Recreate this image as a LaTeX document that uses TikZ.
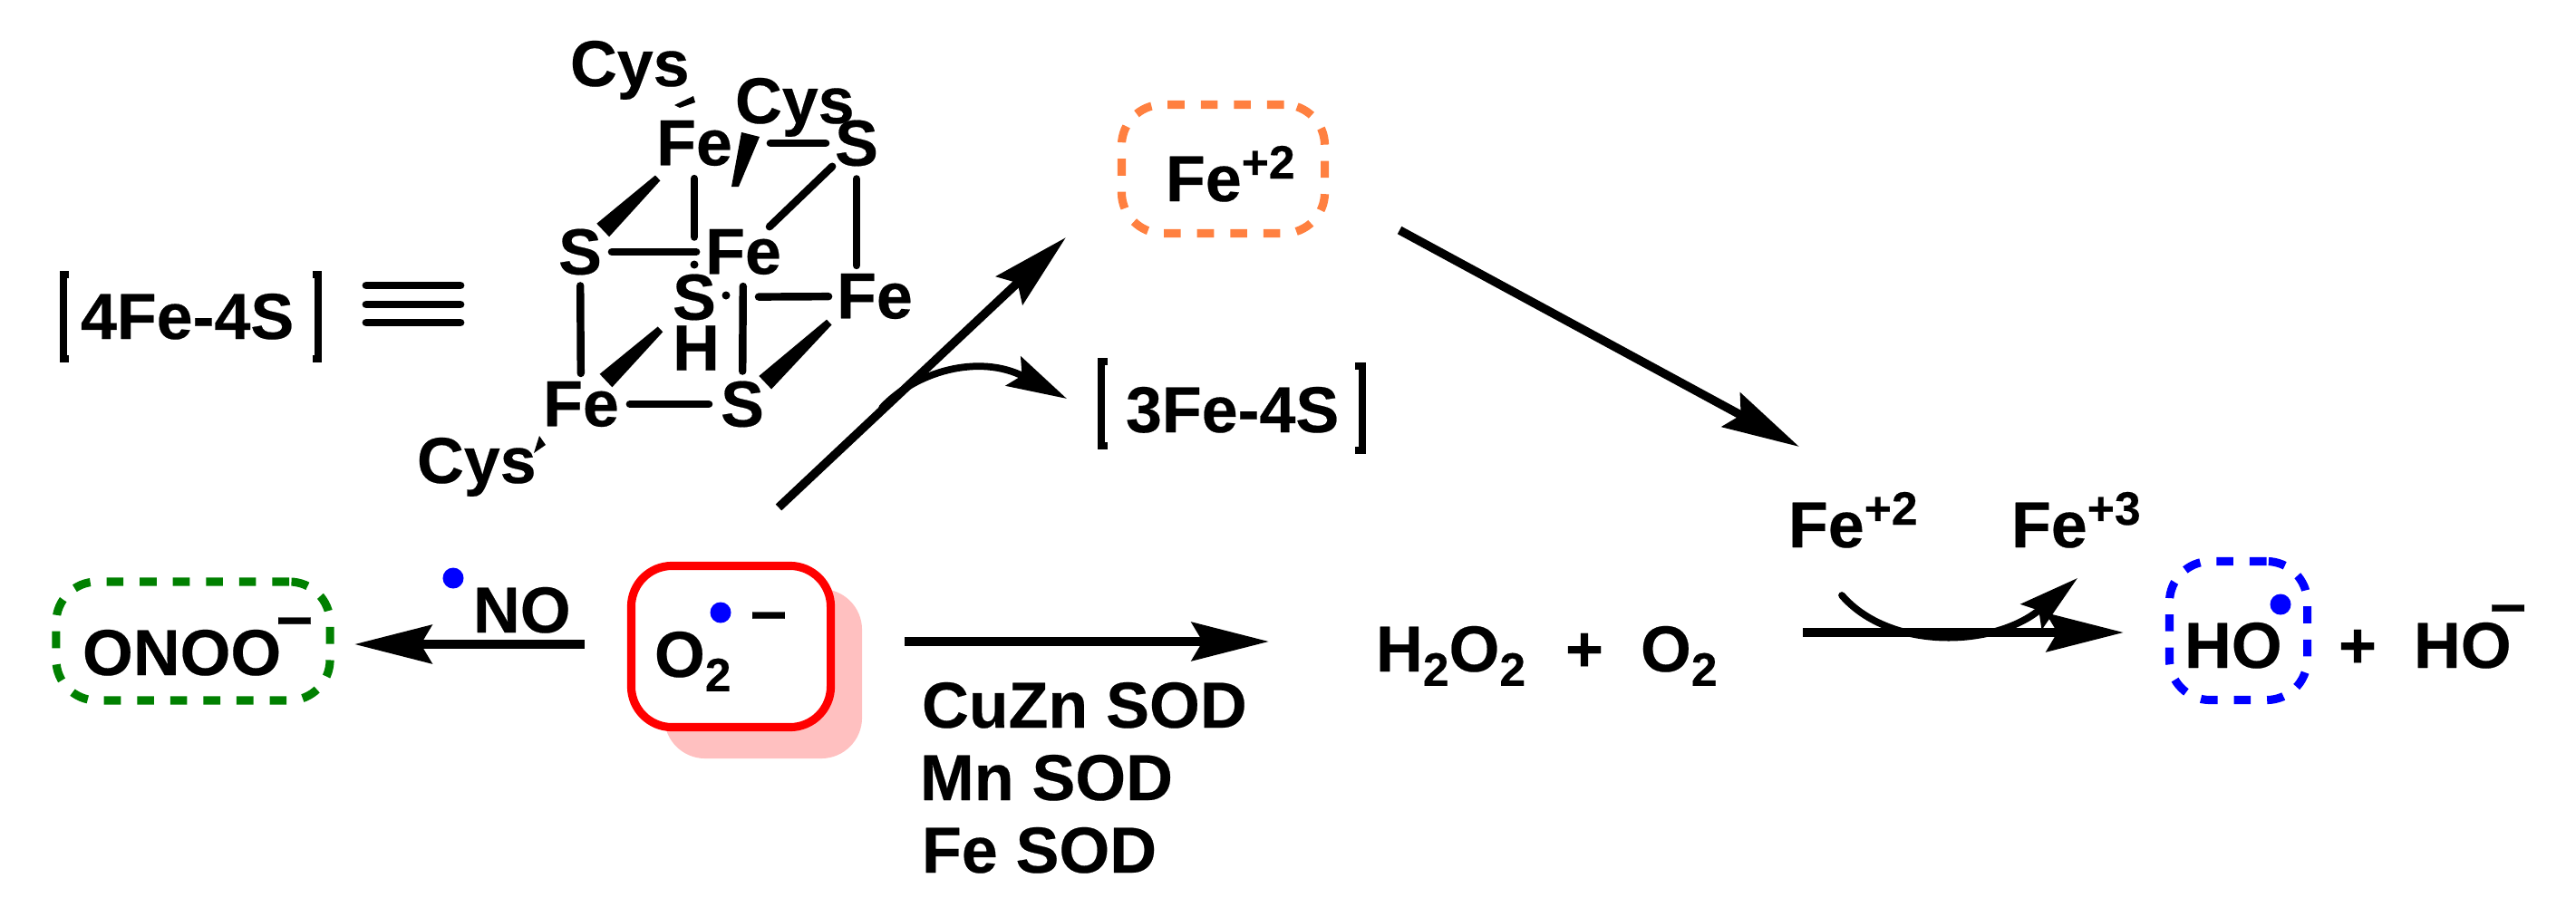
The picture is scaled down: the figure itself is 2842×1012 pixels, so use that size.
\documentclass[tikz,border=0pt]{standalone}
\usepackage{fontspec}
\setmainfont[BoldFeatures={FakeBold=0.3}]{Liberation Sans}
\usepackage{tikz}
\usetikzlibrary{arrows.meta,calc}
\definecolor{radicalblue}{RGB}{0, 0, 255}
\definecolor{boxgreen}{RGB}{0, 128, 0}
\definecolor{boxred}{RGB}{255, 0, 0}
\definecolor{boxorange}{RGB}{255, 128, 64}
\definecolor{shadowpink}{RGB}{255, 192, 192}
\newcommand{\chemsup}[1]{\raisebox{7.1pt}{\fontsize{14.7pt}{14.7pt}\selectfont #1}}
\newcommand{\chemsub}[1]{\raisebox{-4.5pt}{\fontsize{14.7pt}{14.7pt}\selectfont #1}}
\newcommand{\wedgebond}[4]{\fill ($(#1)!#3!(#2)!0.04cm!90:(#2)$) -- ($(#1)!#4!(#2)!0.10cm!90:(#2)$) -- ($(#1)!#4!(#2)!0.10cm!-90:(#2)$) -- ($(#1)!#3!(#2)!0.04cm!-90:(#2)$) -- cycle;}
\tikzset{
    every node/.style={font=\fontsize{20.4pt}{24pt}\selectfont\bfseries, inner sep=0pt, outer sep=0pt},
    txt/.style={anchor=base west},
    atom/.style={anchor=center},
    bond/.style={line width=2.4pt, line cap=round},
    bracket/.style={line width=2.2pt},
    rxn/.style={line width=2.7pt, -{Stealth[length=24.2pt, width=12pt, inset=3.4pt]}},
    curly/.style={line width=2.2pt, line cap=round, -{Stealth[length=18.8pt, width=10.2pt, inset=3pt]}},
    dashbox/.style={draw, line width=2.6pt, rounded corners=0.45cm, dash pattern=on 5.3pt off 5.1pt},
    radical/.style={fill=radicalblue}
}

\begin{document}
\begin{tikzpicture}[x=0.01cm, y=-0.01cm]
    \useasboundingbox (0,0) rectangle (2842,1012);

    % Cluster shorthand
    \node[txt] (fourfe) at (89,374) {4Fe-4S};
    \draw[bracket] (76,303) -- (70,303) -- (70,396) -- (76,396);
    \draw[bracket] (345,303) -- (351,303) -- (351,396) -- (345,396);
    \foreach \y in {315,336,356}
        \draw[line width=2.5pt, line cap=round] (404,\y) -- (508,\y);

    % Cube atoms
    \node[atom] (fetop) at (766,158) {Fe};
    \node[atom] (stop) at (945,158) {S};
    \node[atom] (sleft) at (640,278) {S};
    \node[atom] (fecen) at (820,278) {Fe};
    \node[atom] (scen) at (766,328) {S};
    \node[atom] (feright) at (945,327) {F\rlap{e}};
    \node[atom] (hyd) at (768,384) {H};
    \node[atom] (febot) at (641,446) {Fe};
    \node[atom] (sbot) at (819,446) {S};
    \node[txt] (cysa) at (629,95) {Cys};
    \node[txt] (cysb) at (811,136) {Cys};
    \node[txt] (cysc) at (460,533) {Cys};

    % Cube bonds
    \draw[bond, shorten <=0.42cm, shorten >=0.10cm] (fetop) -- (stop);
    \draw[bond, shorten <=0.04cm, shorten >=0.04cm] (stop) -- (fecen);
    \draw[bond, shorten <=0.14cm, shorten >=0.09cm] (stop) -- (feright);
    \draw[bond, shorten <=0.14cm, shorten >=0.41cm] (fetop) -- (scen);
    \draw[bond, shorten <=0.11cm, shorten >=0.10cm] (sleft) -- (fecen);
    \draw[bond, shorten <=0.12cm, shorten >=0.09cm] (sleft) -- (febot);
    \draw[bond, shorten <=0.12cm, shorten >=0.13cm] (febot) -- (sbot);
    \draw[bond, shorten <=0.11cm, shorten >=0.13cm] (sbot) -- (fecen);
    \draw[bond, shorten <=0.47cm, shorten >=0.09cm] (scen) -- (feright);
    \fill (766,292) circle (0.045cm);
    \fill (801,326) circle (0.045cm);

    % Wedges
    \wedgebond{fetop}{sleft}{0.32}{0.80}
    \wedgebond{scen}{febot}{0.30}{0.78}
    \wedgebond{feright}{sbot}{0.24}{0.80}
    \fill (818,146) -- (838,151) -- (815,206) -- (807,206) -- cycle;
    \fill (744,116) -- (765,106) -- (767,113) -- (750,119) -- cycle;
    \fill (595,481) -- (602,491) -- (589,500) -- cycle;

    % Superoxide and peroxynitrite
    \node[fill=shadowpink, minimum width=2.18cm, minimum height=1.87cm, rounded corners=0.45cm] (o2shadow) at (842,743.5) {};
    \node[draw=boxred, fill=white, line width=2.6pt, minimum width=2.20cm, minimum height=1.78cm, rounded corners=0.45cm] (o2box) at (806.5,713.5) {};
    \node[txt] (sox) at (722,747) {O\chemsub{2}};
    \fill[radical] (795,676) circle (0.115cm);
    \node (soxminus) at (848,687) {--};
    \node[dashbox, draw=boxgreen, minimum width=3.02cm, minimum height=1.31cm] (onoobox) at (213,707.5) {};
    \node[txt] (onoo) at (91,745) {ONOO};
    \node (onoominus) at (325,693) {--};
    \node[txt] (nitric) at (522,698) {NO};
    \fill[radical] (500,638) circle (0.115cm);
    \draw[rxn] ([shift={(-51.5,-2.5)}]o2box.west) -- ([shift={(27,3.5)}]onoobox.east);

    % Iron release branch
    \node[dashbox, draw=boxorange, minimum width=2.24cm, minimum height=1.42cm] (fetwobox) at (1349.5,186.5) {};
    \node[txt] (fetwo) at (1286,222) {Fe\chemsup{+2}};
    \node[txt] (threefe) at (1242,477) {3Fe-4S};
    \draw[bracket] (1222,399) -- (1215,399) -- (1215,492) -- (1222,492);
    \draw[bracket] (1495,404) -- (1503,404) -- (1503,497) -- (1495,497);
    \draw[rxn] ([shift={(52.5,-64.5)}]o2box.north) -- ([shift={(-61.5,4.5)}]fetwobox.south west);
    \coordinate (branch) at (973,450);
    \draw[curly] (branch) .. controls (1010,410) and (1080,390) .. ([shift={(-65,-37)}]threefe.base west);

    % Dismutation
    \node[txt] (hperox) at (1518,741) {H\chemsub{2}O\chemsub{2}};
    \node[txt] (plusa) at (1727,741) {+};
    \node[txt] (oxy) at (1810,741) {O\chemsub{2}};
    \node[txt] (cuzn) at (1017,803) {CuZn SOD};
    \node[txt] (mnsod) at (1015,883) {Mn SOD};
    \node[txt] (fesod) at (1017,963) {Fe SOD};
    \draw[rxn] ([shift={(81.5,-5.5)}]o2box.east) -- ([shift={(-118,-33)}]hperox.base west);

    % Fenton step
    \node[txt] (fetwob) at (1973,604) {Fe\chemsup{+2}};
    \node[txt] (fethree) at (2219,604) {Fe\chemsup{+3}};
    \node[dashbox, draw=radicalblue, minimum width=1.52cm, minimum height=1.53cm] (hobox) at (2469.5,696) {};
    \node[txt] (hydroxyl) at (2410,737) {HO};
    \fill[radical] (2516,667) circle (0.115cm);
    \node[txt] (plusb) at (2580,737) {+};
    \node[txt] (hydroxide) at (2663,737) {HO};
    \node (hominus) at (2767,679) {--};
    \draw[rxn] ([shift={(179,-43)}]oxy.base west) -- ([shift={(-50.5,2)}]hobox.west);
    \draw[rxn] ([shift={(82.5,-3.5)}]fetwobox.south east) -- ([shift={(12,-111)}]fetwob.base west);
    \draw[curly] ([shift={(59,53)}]fetwob.base west) .. controls (2085,718) and (2200,715) .. ([shift={(73,34)}]fethree.base west);
\end{tikzpicture}
\end{document}
